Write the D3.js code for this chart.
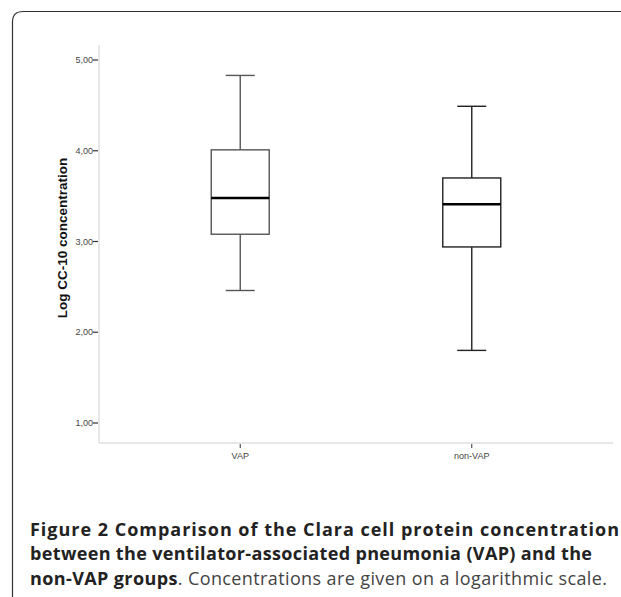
<!DOCTYPE html>
<html><head><meta charset="utf-8">
<script src="https://cdn.jsdelivr.net/npm/d3@7"></script>
<style>html,body{margin:0;padding:0;background:#fff;}</style>
</head><body>
<script>
const categories = ["VAP", "non-VAP"];
const whiskerLow = [2.46, 1.80];
const q1 = [3.08, 2.94];
const median = [3.48, 3.41];
const q3 = [4.01, 3.70];
const whiskerHigh = [4.83, 4.49];
const yTicks = [1, 2, 3, 4, 5];
const yTitle = "Log CC-10 concentration";
const captionLines = [
  [{t:"Figure 2 Comparison of the Clara cell protein concentration", b:true}],
  [{t:"between the ventilator-associated pneumonia (VAP) and the", b:true}],
  [{t:"non-VAP groups", b:true}, {t:". Concentrations are given on a logarithmic scale.", b:false}]
];

const W = 621, H = 597;
const svg = d3.select("body").append("svg").attr("width", W).attr("height", H);

// frame
svg.append("path")
  .attr("d", `M12.5,${H+5} L12.5,22 Q12.5,11.5 23,11.5 L${W+5},11.5`)
  .attr("fill", "none").attr("stroke", "#333").attr("stroke-width", 1.2);

const y = d3.scaleLinear().domain([1, 5]).range([423, 60]);
const x = d3.scalePoint().domain(categories).range([99, 613]).padding(0.61);
const axisX0 = 99, axisY0 = 443;

// axis lines
svg.append("line").attr("x1", axisX0).attr("x2", axisX0).attr("y1", 45).attr("y2", axisY0)
  .attr("stroke", "#d0d0d0").attr("stroke-width", 1);
svg.append("line").attr("x1", axisX0).attr("x2", 613).attr("y1", axisY0).attr("y2", axisY0)
  .attr("stroke", "#d0d0d0").attr("stroke-width", 1);

// y ticks
const fmt = d => d3.format(".2f")(d).replace(".", ",");
const yt = svg.append("g");
yTicks.forEach(v => {
  yt.append("line").attr("x1", axisX0 - 6).attr("x2", axisX0 - 1).attr("y1", y(v)).attr("y2", y(v))
    .attr("stroke", "#333").attr("stroke-width", 1.2);
  yt.append("text").attr("x", axisX0 - 6).attr("y", y(v)).attr("dy", "0.35em")
    .attr("text-anchor", "end").attr("font-family", "Arial, 'Liberation Sans', sans-serif")
    .attr("font-size", 9).attr("fill", "#444").text(fmt(v));
});

// x ticks
categories.forEach(c => {
  svg.append("line").attr("x1", x(c)).attr("x2", x(c)).attr("y1", axisY0 + 1).attr("y2", axisY0 + 5)
    .attr("stroke", "#333").attr("stroke-width", 1);
  svg.append("text").attr("x", x(c)).attr("y", 456).attr("dy", "0.35em")
    .attr("text-anchor", "middle").attr("font-family", "Arial, 'Liberation Sans', sans-serif")
    .attr("font-size", 9).attr("fill", "#444").text(c);
});

// y title
svg.append("text").attr("transform", `translate(66.5,238) rotate(-90)`)
  .attr("text-anchor", "middle").attr("font-family", "Arial, 'Liberation Sans', sans-serif")
  .attr("font-weight", "bold").attr("font-size", 13.5).attr("fill", "#111").text(yTitle);

// boxes
const boxW = 58, capW = 29;
const strokes = ["#555", "#222"];
categories.forEach((c, i) => {
  const cx = x(c);
  const g = svg.append("g").attr("stroke", strokes[i]).attr("stroke-width", 1.4).attr("fill", "none");
  g.append("line").attr("x1", cx).attr("x2", cx).attr("y1", y(whiskerHigh[i])).attr("y2", y(q3[i]));
  g.append("line").attr("x1", cx).attr("x2", cx).attr("y1", y(q1[i])).attr("y2", y(whiskerLow[i]));
  g.append("line").attr("x1", cx - capW/2).attr("x2", cx + capW/2).attr("y1", y(whiskerHigh[i])).attr("y2", y(whiskerHigh[i]));
  g.append("line").attr("x1", cx - capW/2).attr("x2", cx + capW/2).attr("y1", y(whiskerLow[i])).attr("y2", y(whiskerLow[i]));
  g.append("rect").attr("x", cx - boxW/2).attr("y", y(q3[i])).attr("width", boxW)
    .attr("height", y(q1[i]) - y(q3[i])).attr("fill", "#fff");
  svg.append("line").attr("x1", cx - boxW/2).attr("x2", cx + boxW/2).attr("y1", y(median[i])).attr("y2", y(median[i]))
    .attr("stroke", "#000").attr("stroke-width", 2.6);
});

// caption
const capY = [535.5, 560, 585];
const capLen = [589, 562, 577];
captionLines.forEach((parts, i) => {
  const t = svg.append("text").attr("x", 30).attr("y", capY[i])
    .attr("font-family", "'Open Sans', sans-serif").attr("font-size", 18).attr("fill", "#222")
    .attr("textLength", capLen[i]).attr("lengthAdjust", "spacing");
  parts.forEach(p => t.append("tspan").attr("font-weight", p.b ? "bold" : "normal")
    .attr("fill", p.b ? "#222" : "#444").text(p.t));
});
</script>
</body></html>
